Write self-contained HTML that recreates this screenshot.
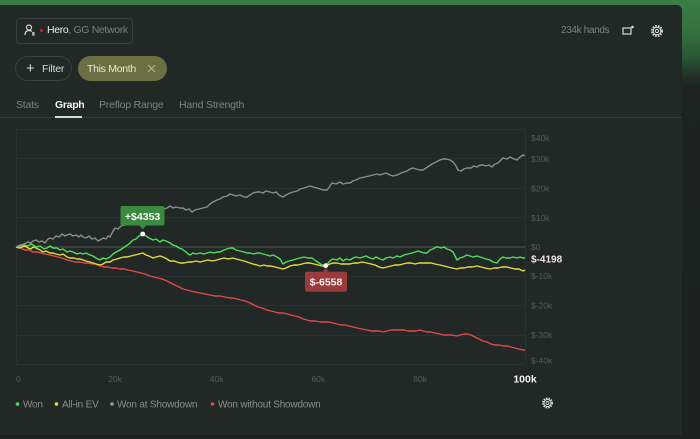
<!DOCTYPE html>
<html><head><meta charset="utf-8">
<style>
html,body{margin:0;padding:0;}
body{width:700px;height:439px;overflow:hidden;position:relative;font-family:"Liberation Sans",sans-serif;
background:linear-gradient(to bottom,#3a7d44 0px,#357240 30px,#2c5a36 55px,#223429 75px,#1d2320 88px,#1c201e 439px);}
.panel{position:absolute;left:0;top:5px;width:682px;height:430px;background:#222826;border-top-right-radius:5px;}
.bottom{position:absolute;left:0;top:435px;width:682px;height:4px;background:#1c201f;}
.abs{position:absolute;white-space:nowrap;}
.userbox{left:16px;top:18px;width:115px;height:24px;border:1px solid #383e3c;border-radius:4px;}
.pill{top:56px;height:25px;border-radius:13px;box-sizing:border-box;}
.tab{top:99px;font-size:10.5px;letter-spacing:-0.2px;color:#7c8280;}
</style></head><body>
<div class="panel"></div>
<div class="bottom"></div>

<!-- user box -->
<div class="abs userbox"></div>
<svg class="abs" style="left:24px;top:24px" width="12" height="12" viewBox="0 0 12 12">
<circle cx="5" cy="3.5" r="2.5" fill="none" stroke="#d6d8d7" stroke-width="1.2"/>
<path d="M1 11 C1 7.5 3 6.5 5 6.5 C6.5 6.5 7.5 7 8 7.5" fill="none" stroke="#d6d8d7" stroke-width="1.2"/>
<path d="M8 9 H11 M8 11 H11 M9 8 V11.5" stroke="#d6d8d7" stroke-width="0.9"/>
</svg>
<div class="abs" style="left:39.5px;top:28.5px;width:3px;height:3px;border-radius:50%;background:#c0282c"></div>
<div class="abs" style="left:47px;top:24px;font-size:10.5px;letter-spacing:-0.35px;color:#eeeeee">Hero<span style="color:#7a807e">, GG Network</span></div>

<!-- 234k hands -->
<div class="abs" style="left:561px;top:25px;font-size:10px;letter-spacing:-0.35px;color:#7c8280">234k hands</div>
<svg class="abs" style="left:622px;top:25px" width="12" height="11" viewBox="0 0 12 11">
<rect x="1" y="3" width="8" height="6" fill="none" stroke="#d6d8d7" stroke-width="1.2"/>
<circle cx="10.5" cy="2" r="1.3" fill="#d6d8d7"/>
</svg>
<svg class="abs" style="left:650px;top:24px" width="14" height="14" viewBox="0 0 14 14">
<circle cx="7" cy="7" r="5" fill="none" stroke="#d6d8d7" stroke-width="2" stroke-dasharray="1.6 1.1"/>
<circle cx="7" cy="7" r="3.8" fill="none" stroke="#d6d8d7" stroke-width="1"/>
<circle cx="7" cy="7" r="1.6" fill="none" stroke="#d6d8d7" stroke-width="1"/>
</svg>

<!-- Filter pills -->
<div class="abs pill" style="left:15px;width:57px;border:1px solid #3a403e"></div>
<div class="abs" style="left:26px;top:60px;font-size:15px;color:#d8dad9;font-weight:300">+</div>
<div class="abs" style="left:42px;top:63px;font-size:10.5px;letter-spacing:-0.2px;color:#d8dad9">Filter</div>
<div class="abs pill" style="left:78px;width:89px;background:#6b6f41"></div>
<div class="abs" style="left:87px;top:63px;font-size:10.5px;letter-spacing:-0.3px;color:#eceada">This Month</div>
<svg class="abs" style="left:147px;top:64px" width="9" height="9" viewBox="0 0 9 9"><path d="M1 1 L8 8 M8 1 L1 8" stroke="#b8baa0" stroke-width="1"/></svg>

<!-- tabs -->
<div class="abs tab" style="left:16px">Stats</div>
<div class="abs tab" style="left:55px;color:#f2f2f2;font-weight:bold;letter-spacing:-0.3px">Graph</div>
<div class="abs tab" style="left:99px">Preflop Range</div>
<div class="abs tab" style="left:179px">Hand Strength</div>
<div class="abs" style="left:0;top:117px;width:682px;height:1px;background:#353b39"></div>
<div class="abs" style="left:55px;top:116px;width:27px;height:2px;background:#d8dad9"></div>

<!-- chart -->
<svg class="abs" style="left:0;top:0" width="700" height="439" viewBox="0 0 700 439">
<g stroke="#2b3130" stroke-width="1" fill="none">
<line x1="16" y1="129.5" x2="525" y2="129.5"/>
<line x1="16" y1="158.5" x2="525" y2="158.5"/>
<line x1="16" y1="188.5" x2="525" y2="188.5"/>
<line x1="16" y1="217.5" x2="525" y2="217.5"/>
<line x1="16" y1="276.5" x2="525" y2="276.5"/>
<line x1="16" y1="305.5" x2="525" y2="305.5"/>
<line x1="16" y1="335.5" x2="525" y2="335.5"/>
<line x1="16" y1="364.5" x2="525" y2="364.5"/>
<line x1="16.5" y1="129" x2="16.5" y2="364"/>
<line x1="525.5" y1="129" x2="525.5" y2="364"/>
</g>
<line x1="16" y1="247" x2="525" y2="247" stroke="#3a403e" stroke-width="2"/>
<g font-family="Liberation Sans, sans-serif" font-size="8.5" fill="#555b59">
<text x="531" y="141">$40k</text>
<text x="531" y="162">$30k</text>
<text x="531" y="191.5">$20k</text>
<text x="531" y="221">$10k</text>
<text x="531" y="250">$0</text>
<text x="531" y="279">$-10k</text>
<text x="531" y="308.5">$-20k</text>
<text x="531" y="338">$-30k</text>
<text x="531" y="363.5">$-40k</text>
<text x="16" y="382">0</text>
<text x="115" y="382" text-anchor="middle">20k</text>
<text x="216.7" y="382" text-anchor="middle">40k</text>
<text x="318.3" y="382" text-anchor="middle">60k</text>
<text x="420" y="382" text-anchor="middle">80k</text>
</g>
<text x="525" y="382.5" text-anchor="middle" font-family="Liberation Sans, sans-serif" font-size="10.5" font-weight="bold" fill="#f4f4f4">100k</text>
<text x="531" y="262.5" font-family="Liberation Sans, sans-serif" font-size="10" font-weight="bold" fill="#f2e4e4">$-4198</text>

<g fill="none" stroke-width="1.4" stroke-linejoin="round">
<polyline stroke="#e24a4a" points="16,247 20,248 25,250 29,250 33,252 37,252 41,253 45,254 50,255 54,256 58,257 62,258 67,260 71,261 75,262 80,262 84,263 88,263 92,264 96,264 100,266 104,267 108,267 112,268 116,268 120,269 124,269 128,270 133,271 137,272 141,273 145,274 150,276 154,277 158,278 162,279 167,281 171,283 175,285 179,287 183,289 187,290 191,291 195,292 200,293 205,294 210,295 215,296 220,296 225,297 230,298 233,298 237,299 241,300 245,301 250,303 254,305 258,307 262,308 267,310 271,311 275,312 279,313 283,313 287,314 291,315 295,316 299,317 303,319 307,320 311,321 315,321 320,322 325,322 329,322 333,323 337,324 341,325 345,325 349,326 353,327 357,328 362,329 367,330 371,331 375,331 379,331 383,332 387,331 391,330 395,330 400,330 404,330 408,331 412,331 416,331 420,330 423,331 427,332 431,332 435,333 440,334 444,335 448,335 452,335 457,336 460,335 464,334 467,334 471,335 475,337 479,339 483,341 487,342 491,344 495,345 499,345 503,346 507,346 511,347 515,348 519,349 523,350 525,350"/>
<polyline stroke="#e6dc3a" points="16,247 19,248 22,247 25,246 28,248 31,249 33,247 36,248 40,250 43,252 46,251 50,253 53,253 56,254 60,255 63,254 67,257 70,258 74,258 77,259 80,259 83,260 86,261 90,262 93,263 96,264 100,265 103,264 106,262 110,262 113,260 117,259 120,258 124,257 127,257 131,256 135,255 139,254 142.7,253 146,255 149,256 153,258 156,257 160,256 163,257 167,259 170,261 174,261 177,262 180,263 184,263 188,262 192,262 196,261 200,262 204,261 208,260 212,261 217,260 220,259 224,258 228,259 233,258 236,259 240,260 244,261 247,262 250,263 253,264 257,265 260,266 264,265 267,266 271,266 275,267 279,268 283,269 286,268 290,266 294,265 298,265 302,264 306,263 310,263 314,264 318,265 322,266 326,266 330,264 333,263 337,263 341,264 345,264 350,264 354,263 358,263 362,262 367,263 371,264 375,265 379,267 383,268 387,267 391,266 395,265 399,265 403,264 407,263 411,263 415,264 419,263 423,263 427,263 431,263 435,264 440,265 444,266 448,267 452,268 457,269 460,268 464,268 468,267 472,267 477,266 481,267 485,268 490,269 494,268 498,268 502,267 507,267 511,268 515,269 519,269 523,271 525,270"/>
<polyline stroke="#4fe05a" points="16,247 20,246 24,245 28,246 31,244 33,245 36,247 40,246 44,249 47,248 50,246 53,248 57,248 60,250 63,249 67,252 70,251 73,252 77,254 80,253 83,254 86,253 90,255 93,256 96,258 100,260 103,258 106,259 110,257 113,254 116,252 120,250 123,248 126,246 129,244 131,242 133,240 136,239 139,236 142.7,234 146,236 149,238 153,240 156,239 160,242 163,240 166,241 170,243 173,245 176,246 179,248 182,249 186,252 188,254 190,255 193,253 196,254 200,253 204,254 207,253 210,252 214,253 217,252 220,252 224,250 227,249 230,248 233,248 236,250 240,251 244,252 247,253 250,253 254,254 257,253 260,253 263,254 267,255 270,256 273,255 277,257 280,259 283,264 286,262 289,261 293,260 296,259 300,258 304,257 308,258 312,258 316,261 319,263 322,265 325.7,265.7 328,263 331,260 333,259 337,260 340,258 343,261 346,259 350,260 353,258 356,257 360,258 363,257 366,256 370,258 373,259 376,257 380,259 383,260 386,258 390,257 393,258 397,256 400,257 404,255 408,254 412,253 415,252 418,251 421,252 424,253 427,253 430,250 433,249 436,247 438,247 441,248 444,247 447,249 450,250 453,252 455,256 457,260 460,258 463,257 467,255 470,256 473,257 477,256 480,257 483,258 486,259 490,260 493,262 497,263 500,259 503,257 506,258 510,258 513,257 517,258 520,257 523,258 525,258"/>
<polyline stroke="#8a8e8c" points="16,247 20,245 24,244 28,242 31,243 33,241 36,240 39,242 42,241 45,243 48,239 50,238 53,239 56,236 59,237 62,234 65,236 67,235 70,234 73,236 76,235 79,237 81,235 83,237 86,238 89,236 92,239 95,238 98,241 100,240 103,238 106,239 108,236 110,237 112,233 115,228 118,229 121,226 125,225 129,223 133,222 137,221 140,220 144,218 148,215 152,214 156,212 160,211 164,209 167,208 170,206 173,208 176,207 180,208 183,208 186,210 189,209 192,212 195,210 199,209 203,208 207,207 210,204 213,202 217,200 220,199 223,197 227,196 230,194 233,195 236,196 240,195 244,197 247,197 250,195 253,193 257,192 260,192 263,193 266,191 270,192 273,193 276,192 279,195 283,197 286,195 290,193 293,192 297,191 300,189 304,188 307,187 310,186 313,187 317,188 320,189 323,190 327,190 330,186 332,183 336,184 340,182 343,184 347,183 350,183 353,181 356,180 360,178 365,177 369,176 373,175 377,174 380,175 383,174 386,173 390,175 393,176 397,175 401,173 404,172 407,171 410,169 413,168 416,169 420,170 423,170 426,168 429,166 432,164 436,162 440,160 443,159 446,159 450,160 453,162 456,166 458,170 461,171 464,169 467,168 471,168 474,166 477,167 480,165 483,165 486,166 489,165 492,167 495,164 498,163 501,160 503,158 507,159 510,157 514,159 517,160 520,157 523,155 525,156"/>
</g>

<!-- tooltips -->
<rect x="120.5" y="206" width="44" height="19.5" rx="2" fill="#3b8a40"/>
<path d="M139.5 225.5 L142.7 229.5 L146 225.5 Z" fill="#3b8a40"/>
<text x="142.6" y="219.8" text-anchor="middle" font-family="Liberation Sans, sans-serif" font-size="10.5" font-weight="bold" fill="#f2f6ee">+$4353</text>
<circle cx="142.7" cy="234" r="2.4" fill="#ffffff"/>

<rect x="305" y="271.7" width="42" height="20" rx="2" fill="#9a3a3a"/>
<path d="M322.5 271.8 L325.7 268 L329 271.8 Z" fill="#9a3a3a"/>
<text x="326" y="285.5" text-anchor="middle" font-family="Liberation Sans, sans-serif" font-size="10.5" font-weight="bold" fill="#f6eeee">$-6558</text>
<circle cx="325.7" cy="265.7" r="2.4" fill="#ffffff"/>

<!-- legend -->
<g font-family="Liberation Sans, sans-serif" font-size="10" fill="#8a8f8d" letter-spacing="-0.2">
<circle cx="17.5" cy="404" r="1.8" fill="#4fe05a"/>
<text x="23" y="407.5">Won</text>
<circle cx="56.5" cy="404" r="1.8" fill="#e6dc3a"/>
<text x="62" y="407.5">All-in EV</text>
<circle cx="112" cy="404" r="1.8" fill="#9a9e9c"/>
<text x="117" y="407.5">Won at Showdown</text>
<circle cx="212.5" cy="404" r="1.8" fill="#e24a4a"/>
<text x="218" y="407.5">Won without Showdown</text>
</g>
<g transform="translate(541.5,397)">
<circle cx="6" cy="6" r="4.6" fill="none" stroke="#d6d8d7" stroke-width="1.8" stroke-dasharray="1.5 1"/>
<circle cx="6" cy="6" r="3.5" fill="none" stroke="#d6d8d7" stroke-width="0.9"/>
<circle cx="6" cy="6" r="1.5" fill="none" stroke="#d6d8d7" stroke-width="0.9"/>
</g>
</svg>
</body></html>
